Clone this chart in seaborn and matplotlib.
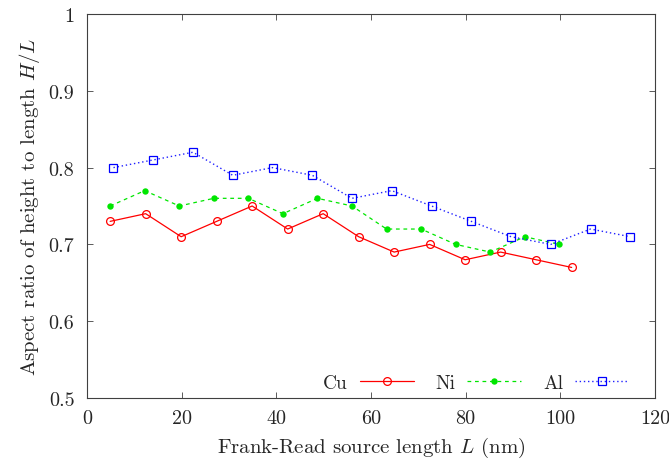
import numpy as np
import matplotlib
matplotlib.use("Agg")
import matplotlib.pyplot as plt
import seaborn as sns

# data
cu_x = [4.9, 12.4, 19.9, 27.4, 34.9, 42.4, 49.9, 57.4, 64.9, 72.4, 79.9, 87.4, 94.9, 102.4]
cu_y = [0.73, 0.74, 0.71, 0.73, 0.75, 0.72, 0.74, 0.71, 0.69, 0.70, 0.68, 0.69, 0.68, 0.67]

ni_x = [4.9, 12.2, 19.5, 26.8, 34.1, 41.4, 48.7, 56.0, 63.3, 70.6, 77.9, 85.2, 92.5, 99.8]
ni_y = [0.75, 0.77, 0.75, 0.76, 0.76, 0.74, 0.76, 0.75, 0.72, 0.72, 0.70, 0.69, 0.71, 0.70]

al_x = [5.6, 14.0, 22.4, 30.8, 39.2, 47.6, 56.0, 64.4, 72.8, 81.2, 89.6, 98.0, 106.4, 114.8]
al_y = [0.80, 0.81, 0.82, 0.79, 0.80, 0.79, 0.76, 0.77, 0.75, 0.73, 0.71, 0.70, 0.72, 0.71]

x_ticks = [0, 20, 40, 60, 80, 100, 120]
y_ticks = [0.5, 0.6, 0.7, 0.8, 0.9, 1.0]
y_labels = ["0.5", "0.6", "0.7", "0.8", "0.9", "1"]

sns.set_style("ticks")
plt.rcParams["font.family"] = ["cmr10", "DejaVu Serif"]
plt.rcParams["mathtext.fontset"] = "cm"
plt.rcParams["axes.formatter.use_mathtext"] = True
plt.rcParams["axes.unicode_minus"] = False

fig = plt.figure(figsize=(6.69, 4.60), dpi=100)
ax = fig.add_axes([0.130, 0.1326, 0.849, 0.8348])

sns.lineplot(x=cu_x, y=cu_y, ax=ax, color="#ff0000", lw=0.9,
             marker="o", markersize=5.6, markerfacecolor="none",
             markeredgecolor="#ff0000", markeredgewidth=0.9, label="Cu")
sns.lineplot(x=ni_x, y=ni_y, ax=ax, color="#00e600", lw=0.9,
             linestyle=(0, (3, 3)), marker="o", markersize=4.6,
             markeredgewidth=0, markerfacecolor="#00e600", label="Ni")
sns.lineplot(x=al_x, y=al_y, ax=ax, color="#2020ff", lw=1.0,
             linestyle=(0, (1, 2)), marker="s", markersize=5.2,
             markerfacecolor="none", markeredgecolor="#0000ff",
             markeredgewidth=0.9, label="Al")

ax.set_xlim(0, 120)
ax.set_ylim(0.5, 1.0)
ax.set_xticks(x_ticks)
ax.set_xticklabels([str(t) for t in x_ticks])
ax.set_yticks(y_ticks)
ax.set_yticklabels(y_labels)
ax.tick_params(direction="in", length=4.5, width=0.6, color="#404040",
               labelsize=14.5, top=True, right=True)
ax.tick_params(axis="x", pad=8)
ax.tick_params(axis="y", pad=9)
for s in ax.spines.values():
    s.set_color("#404040")
    s.set_linewidth(0.8)

ax.set_xlabel(r"Frank-Read source length $L$ (nm)", fontsize=15, labelpad=6)
ax.set_ylabel(r"Aspect ratio of height to length $H/L$", fontsize=15, labelpad=5)

ax.legend(loc="lower right", ncol=3, frameon=False, markerfirst=False,
          fontsize=14, handlelength=2.8, columnspacing=1.1, handletextpad=0.6,
          borderaxespad=0.0, bbox_to_anchor=(0.968, -0.005))

fig.savefig("out.png", dpi=100)
